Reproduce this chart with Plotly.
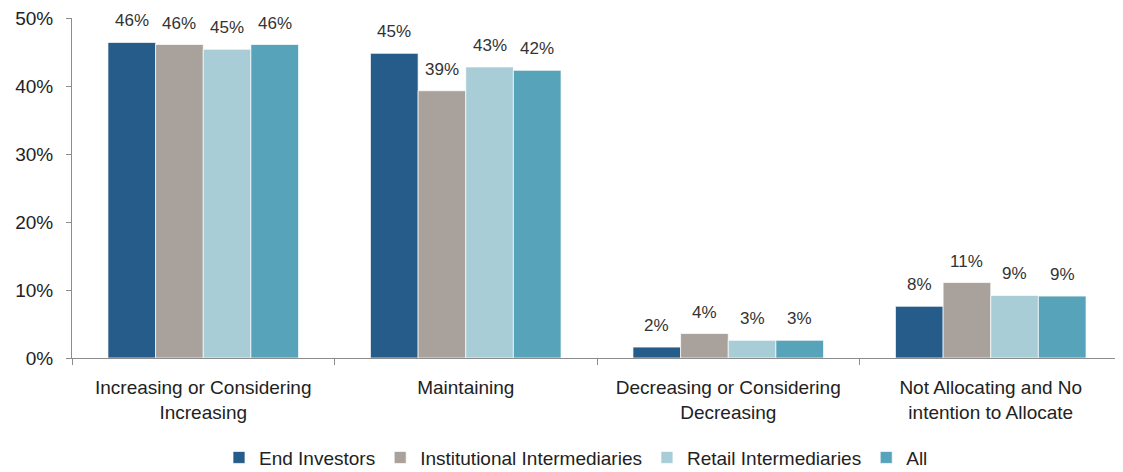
import plotly.graph_objects as go

categories = ["Increasing or Considering<br>Increasing", "Maintaining",
              "Decreasing or Considering<br>Decreasing", "Not Allocating and No<br>intention to Allocate"]
series_names = ["End Investors", "Institutional Intermediaries", "Retail Intermediaries", "All"]
end_investors = [46.4, 44.8, 1.6, 7.6]
institutional = [46.1, 39.3, 3.6, 11.1]
retail = [45.4, 42.8, 2.6, 9.2]
all_resp = [46.1, 42.3, 2.6, 9.1]
colors = ["#255C89", "#A9A19B", "#A8CDD6", "#56A3BA"]
y_ticks = [0, 10, 20, 30, 40, 50]

FONT = "Liberation Sans, Arial, sans-serif"
# page body has an 8px default margin, so the figure is sized/offset for it
W, H = 1115, 464
ML, MR, MT, MB = 64, 1, 10, 114
BARGAP = 0.274

series = [end_investors, institutional, retail, all_resp]
fig = go.Figure()
for name, vals, col in zip(series_names, series, colors):
    fig.add_trace(go.Bar(
        x=categories, y=vals, name=name,
        marker=dict(color=col, line=dict(color="white", width=0.7)),
        cliponaxis=False,
    ))

# value labels above bars (as annotations, to reproduce the larger gap)
cat_w = (W - ML - MR) / len(categories)
bar_w = cat_w * (1 - BARGAP) / len(series)
for i, vals in enumerate(series):
    for c, v in zip(categories, vals):
        fig.add_annotation(
            x=c, y=v, xref="x", yref="y", text=f"{v:.0f}%", showarrow=False,
            xshift=(i - (len(series) - 1) / 2) * bar_w, yanchor="bottom", yshift=10,
            font=dict(size=17, color="#333333", family=FONT),
        )

fig.update_layout(
    width=W, height=H,
    margin=dict(l=ML, r=MR, t=MT, b=MB, autoexpand=False),
    barmode="group", bargap=BARGAP, bargroupgap=0,
    plot_bgcolor="white", paper_bgcolor="white",
    font=dict(family=FONT, size=19, color="#222222"),
    showlegend=True,
    legend=dict(orientation="h", x=0.48, xanchor="center", y=-0.237, yanchor="top",
                font=dict(size=19, color="#222222"), itemwidth=30, traceorder="normal"),
)
fig.update_xaxes(
    showline=True, linecolor="#8C8C8C", linewidth=1,
    ticks="outside", tickson="boundaries", ticklen=6, tickcolor="#8C8C8C",
    tickfont=dict(size=19, color="#222222", family=FONT),
    ticklabelstandoff=12,
    showgrid=False, fixedrange=True, automargin=False,
)
fig.update_yaxes(
    range=[0, 50], tickvals=y_ticks, ticktext=[f"{v}%" for v in y_ticks],
    showline=True, linecolor="#8C8C8C", linewidth=1,
    ticks="outside", ticklen=5, tickcolor="#8C8C8C",
    tickfont=dict(size=19, color="#222222", family=FONT),
    ticklabelstandoff=9, ticklabeloverflow="allow",
    showgrid=False, zeroline=False, fixedrange=True, automargin=False,
)
fig.write_html("out.html")
